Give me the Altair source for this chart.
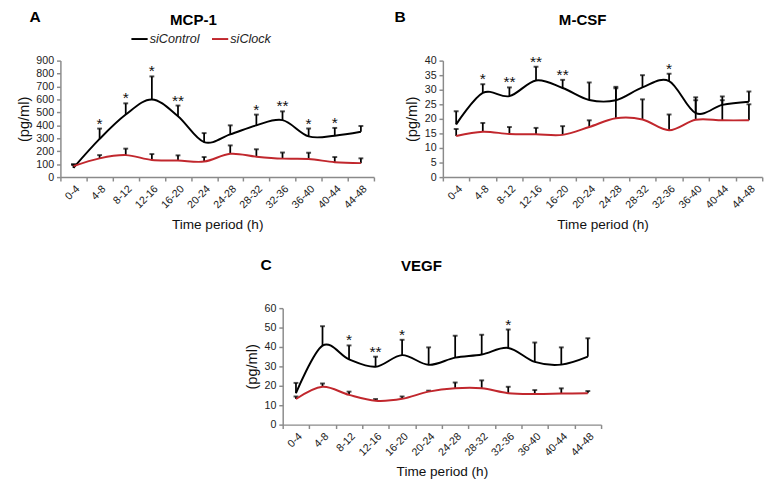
import altair as alt
import pandas as pd

periods = ["0-4", "4-8", "8-12", "12-16", "16-20", "20-24",
           "24-28", "28-32", "32-36", "36-40", "40-44", "44-48"]
series_names = ["siControl", "siClock"]
series_colors = ["#000000", "#c1272d"]

# Panel A: MCP-1 (pg/ml)
mcp_ctrl = [72, 295, 483, 600, 470, 270, 330, 400, 440, 315, 320, 350]
mcp_ctrl_top = [100, 375, 570, 778, 553, 340, 400, 483, 508, 375, 380, 395]
mcp_clock = [85, 145, 170, 132, 128, 120, 180, 158, 143, 140, 115, 108]
mcp_clock_top = [95, 170, 220, 178, 168, 155, 245, 215, 190, 188, 155, 145]
mcp_stars = ["", "*", "*", "*", "**", "", "", "*", "**", "*", "*", ""]

# Panel B: M-CSF (pg/ml)
mcsf_ctrl = [18.1, 28.9, 27.8, 33.2, 30.6, 26.5, 26.4, 30.8, 33.0, 22.0, 24.8, 25.9]
mcsf_ctrl_top = [22.6, 31.9, 30.8, 37.9, 33.4, 32.5, 31.0, 35.0, 35.5, 27.4, 27.7, 29.4]
mcsf_clock = [14.1, 15.6, 14.8, 14.7, 14.5, 17.2, 20.2, 19.8, 16.1, 19.7, 19.5, 19.5]
mcsf_clock_top = [16.5, 18.6, 17.2, 16.9, 17.5, 19.5, 30.5, 26.7, 21.5, 26.4, 26.4, 25.0]
mcsf_stars = ["", "*", "**", "**", "**", "", "", "", "*", "", "", ""]

# Panel C: VEGF (pg/ml)
vegf_ctrl = [16.2, 40.7, 33.6, 29.8, 35.8, 30.8, 34.5, 36.1, 39.5, 32.3, 30.9, 35.0]
vegf_ctrl_top = [21.5, 50.7, 40.8, 35.0, 43.7, 39.8, 45.8, 46.3, 49.0, 42.3, 39.8, 44.5]
vegf_clock = [13.2, 19.5, 15.3, 12.3, 13.3, 17.0, 18.7, 18.7, 16.2, 15.8, 16.0, 16.2]
vegf_clock_top = [14.5, 21.2, 17.0, 13.2, 14.5, 17.5, 21.7, 22.8, 19.5, 17.8, 18.7, 17.3]
vegf_stars = ["", "", "*", "**", "*", "", "", "", "*", "", "", ""]

FONT = "Liberation Sans"
AXIS_GREY = "#8a8a8a"


def panel(letter, title, ctrl, ctrl_top, clock, clock_top, stars,
          ymax, ystep, width, height, letter_xy, title_xy, legend_xy):
    rows = []
    for i, p in enumerate(periods):
        rows.append(dict(period=p, pos=i + 0.5, series=series_names[0],
                         value=ctrl[i], top=ctrl_top[i], star=stars[i]))
        rows.append(dict(period=p, pos=i + 0.5, series=series_names[1],
                         value=clock[i], top=clock_top[i], star=""))
    df = pd.DataFrame(rows)
    n = len(periods)
    label_arr = "[" + ",".join("'%s'" % p for p in periods) + "]"

    x = alt.X(
        "pos:Q",
        scale=alt.Scale(domain=[0, n], nice=False, zero=False),
        axis=alt.Axis(
            values=[k / 2 for k in range(2 * n + 1)],
            labelExpr=f"datum.value % 1 == 0.5 ? {label_arr}[floor(datum.value)] : ''",
            tickOpacity={"condition": {"test": "datum.value % 1 == 0", "value": 1}, "value": 0},
            labelAngle=-45,
            labelOverlap=False,
            labelFlush=False,
            labelPadding=2,
            labelFontSize=11,
            title="Time period (h)",
            titleFontSize=14,
            titlePadding=8,
            grid=False,
        ),
    )
    y_scale = alt.Scale(domain=[0, ymax], nice=False)
    y_axis = alt.Axis(
        values=list(range(0, ymax + 1, ystep)),
        labelOverlap=False,
        labelFlush=False,
        labelFontSize=11,
        labelPadding=3,
        title="(pg/ml)",
        titleFontSize=15,
        titlePadding=5,
        grid=False,
    )
    y = alt.Y("value:Q", scale=y_scale, axis=y_axis, title="(pg/ml)")
    y_top = alt.Y("top:Q", scale=y_scale, axis=y_axis, title="(pg/ml)")

    base = alt.Chart(df)
    rules = base.mark_rule(color="black", strokeWidth=1.8).encode(
        x=x, y=y, y2="top:Q")
    caps = base.mark_tick(color="black", thickness=2, size=5,
                          orient="horizontal").encode(x=x, y=y_top)
    lines = base.mark_line(interpolate="cardinal", strokeWidth=2).encode(
        x=x, y=y,
        color=alt.Color(
            "series:N",
            scale=alt.Scale(domain=series_names, range=series_colors),
            legend=alt.Legend(
                orient="none", legendX=legend_xy[0], legendY=legend_xy[1],
                direction="horizontal", title=None,
                symbolType="stroke", symbolStrokeWidth=2, symbolSize=280,
                labelFontStyle="italic", labelFontSize=13, labelFont=FONT,
                labelColor="#222222", columnPadding=8, labelOffset=1,
            ),
        ),
        detail="series:N",
    )
    star_text = base.transform_filter("datum.star != ''").mark_text(
        baseline="bottom", fontSize=16, font=FONT, dy=3, color="#111111"
    ).encode(x=x, y=y_top, text="star:N")

    title_df = pd.DataFrame({"t": [title]})
    title_text = alt.Chart(title_df).mark_text(
        fontSize=15.5, fontWeight="bold", font=FONT, align="center",
        baseline="middle", color="#000000"
    ).encode(text="t:N", x=alt.value(title_xy[0]), y=alt.value(title_xy[1]))

    letter_df = pd.DataFrame({"t": [letter]})
    letter_text = alt.Chart(letter_df).mark_text(
        fontSize=16, fontWeight="bold", font=FONT, align="center",
        baseline="middle", color="#000000"
    ).encode(text="t:N", x=alt.value(letter_xy[0]), y=alt.value(letter_xy[1]))

    return alt.layer(rules, caps, lines, star_text, title_text, letter_text).properties(
        width=width, height=height)


chart_a = panel("A", "MCP-1", mcp_ctrl, mcp_ctrl_top, mcp_clock, mcp_clock_top,
                mcp_stars, 900, 100, 323, 120, (-26, -45), (137, -42), (72, -32))
chart_b = panel("B", "M-CSF", mcsf_ctrl, mcsf_ctrl_top, mcsf_clock, mcsf_clock_top,
                mcsf_stars, 40, 5, 329, 120, (-44, -45), (144, -42), (79, -32))
chart_c = panel("C", "VEGF", vegf_ctrl, vegf_ctrl_top, vegf_clock, vegf_clock_top,
                vegf_stars, 60, 10, 328, 120, (-17, -44), (143, -43), (79, -31))

spacer = alt.Chart(pd.DataFrame({"a": [0]})).mark_point(opacity=0).properties(
    width=189, height=10)

chart = alt.vconcat(
    alt.hconcat(chart_a, chart_b, spacing=13),
    alt.hconcat(spacer, chart_c, spacing=0),
    spacing=27,
).properties(
    padding={"left": 8, "top": -6, "right": 0, "bottom": 0}
).configure_view(
    stroke=None
).configure_axis(
    domainColor=AXIS_GREY, domainWidth=1.5,
    tickColor=AXIS_GREY, tickWidth=1.5, tickSize=4,
    labelFont=FONT, labelColor="#222222",
    titleFont=FONT, titleFontWeight="normal", titleColor="#111111",
)

chart.save("out.html", embed_options={"renderer": "svg", "actions": False})
